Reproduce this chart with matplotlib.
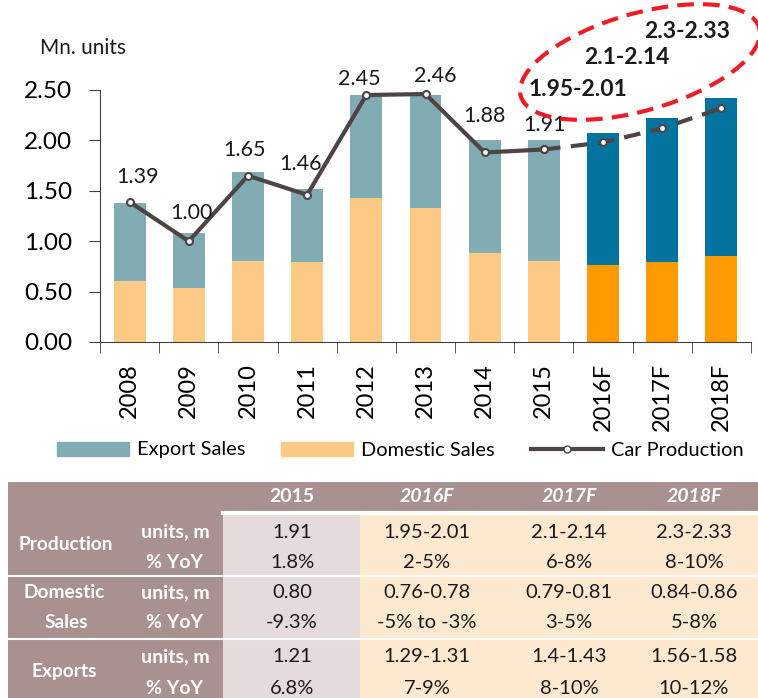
import matplotlib
matplotlib.use("Agg")
import matplotlib.pyplot as plt
from matplotlib.patches import Patch, Rectangle, Ellipse
from matplotlib.lines import Line2D

plt.rcParams['font.family'] = ['Lato', 'DejaVu Sans']

# chart data
years = ['2008', '2009', '2010', '2011', '2012', '2013', '2014', '2015', '2016F', '2017F', '2018F']
domestic = [0.61, 0.54, 0.80, 0.79, 1.43, 1.33, 0.88, 0.80, 0.76, 0.79, 0.85]
export = [0.77, 0.54, 0.89, 0.73, 1.02, 1.12, 1.12, 1.20, 1.31, 1.43, 1.57]
production = [1.39, 1.00, 1.65, 1.46, 2.45, 2.46, 1.88, 1.91, 1.98, 2.12, 2.32]
prod_labels = ['1.39', '1.00', '1.65', '1.46', '2.45', '2.46', '1.88', '1.91']
forecast_labels = ['1.95-2.01', '2.1-2.14', '2.3-2.33']
n_hist = 8

# table data
table_cols = ['2015', '2016F', '2017F', '2018F']
production_units = ['1.91', '1.95-2.01', '2.1-2.14', '2.3-2.33']
production_yoy = ['1.8%', '2-5%', '6-8%', '8-10%']
domestic_units = ['0.80', '0.76-0.78', '0.79-0.81', '0.84-0.86']
domestic_yoy = ['-9.3%', '-5% to -3%', '3-5%', '5-8%']
export_units = ['1.21', '1.29-1.31', '1.4-1.43', '1.56-1.58']
export_yoy = ['6.8%', '7-9%', '8-10%', '10-12%']

# label offsets in pixels (dx, dy up)
label_off = [(8, 25), (3, 28), (-3, 26), (-7, 31), (-7, 16), (10, 18), (0, 36), (1, 24)]

W, H = 758, 698
fig = plt.figure(figsize=(W / 100, H / 100), dpi=100)

# main chart
ax = fig.add_axes([100 / W, 1 - 342 / H, 651 / W, 252 / H])
x = list(range(len(years)))
exp_col = ['#82acb3'] * n_hist + ['#03739f'] * (len(years) - n_hist)
dom_col = ['#fdca85'] * n_hist + ['#fd9a00'] * (len(years) - n_hist)
ax.bar(x, domestic, width=0.54, color=dom_col, zorder=2)
ax.bar(x, export, width=0.54, bottom=domestic, color=exp_col, zorder=2)

line_col = '#4d4446'
ax.plot(x[:n_hist], production[:n_hist], color=line_col, lw=3, zorder=3,
        marker='o', ms=5, mfc='white', mec=line_col, mew=1.5)
ax.plot(x[n_hist - 1:], production[n_hist - 1:], color=line_col, lw=3, zorder=3,
        ls=(0, (4, 2.5)), marker='o', ms=5, mfc='white', mec=line_col, mew=1.5)

for i, lab in enumerate(prod_labels):
    dx, dy = label_off[i]
    ax.annotate(lab, (x[i], production[i]), xytext=(dx * 0.72, dy * 0.72), textcoords='offset points',
                ha='center', va='center', fontsize=15.5, color='#1a1a1a', annotation_clip=False)

ax.set_xlim(-0.5, len(years) - 0.5)
ax.set_ylim(0, 2.5)
ax.set_yticks([0, 0.5, 1.0, 1.5, 2.0, 2.5])
ax.set_yticklabels(['%.2f' % v for v in [0, 0.5, 1.0, 1.5, 2.0, 2.5]], fontsize=17.5)
ax.set_xticks(x)
ax.set_xticklabels(years, rotation=90, fontsize=17)
ax.set_xticks([i - 0.5 for i in range(len(years) + 1)], minor=True)
ax.tick_params(axis='x', which='major', length=0, pad=15)
ax.tick_params(axis='x', which='minor', length=8, color='#404040')
ax.tick_params(axis='y', length=8, color='#404040', pad=12)
for s in ['top', 'right']:
    ax.spines[s].set_visible(False)
for s in ['left', 'bottom']:
    ax.spines[s].set_color('#404040')

fig.text(40 / W, 1 - 48 / H, 'Mn. units', fontsize=15, va='center', ha='left', color='#1a1a1a')

handles = [Patch(color='#82acb3'), Patch(color='#fdca85'),
           Line2D([], [], color=line_col, lw=3, marker='o', ms=5, mfc='white', mec=line_col)]
fig.legend(handles, ['Export Sales', 'Domestic Sales', 'Car Production'], loc='center',
           bbox_to_anchor=(400 / W, 1 - 450 / H), ncol=3, frameon=False, fontsize=14.4,
           handlelength=3.6, handletextpad=0.4, columnspacing=1.8)

# overlay in pixel coordinates for annotation and table
ov = fig.add_axes([0, 0, 1, 1])
ov.set_xlim(0, W)
ov.set_ylim(H, 0)
ov.axis('off')

ov.add_patch(Ellipse((640, 62), 248, 97, angle=-16, fill=False, ec='#ee1c25', lw=3,
                     ls=(0, (4, 2.2))))
for lab, (tx, ty) in zip(forecast_labels, [(578, 90), (627, 57), (687, 32)]):
    ov.text(tx, ty, lab, fontsize=16.5, fontweight='bold', ha='center', va='center', color='#1a1a1a')

brown = '#a8918e'
ov.add_patch(Rectangle((8, 482), W - 8, 30, color=brown, lw=0))
ov.add_patch(Rectangle((8, 482), 215, H - 482, color=brown, lw=0))
ov.add_patch(Rectangle((223, 512), 137, H - 512, color='#e6dbdb', lw=0))
ov.add_patch(Rectangle((360, 512), W - 360, H - 512, color='#fde9d0', lw=0))
ov.plot([223, W], [513, 513], color='white', lw=3)
for yy in [576, 639]:
    ov.plot([8, W], [yy, yy], color='white', lw=1.5)

col_x = [292, 427, 569, 694]
for i, (cx, c) in enumerate(zip(col_x, table_cols)):
    ov.text(cx, 497, c, fontsize=14, fontweight='bold', color='white', ha='center',
            va='center', style='normal' if i == 0 else 'italic')

rows = [production_units, production_yoy, domestic_units, domestic_yoy, export_units, export_yoy]
row_y = [532, 563, 593, 622, 657, 688]
for vals, ry in zip(rows, row_y):
    for cx, v in zip(col_x, vals):
        ov.text(cx, ry, v, fontsize=14.5, color='#1a1a1a', ha='center', va='center')
for i, ry in enumerate(row_y):
    ov.text(175, ry, 'units, m' if i % 2 == 0 else '% YoY', fontsize=14, fontweight='bold',
            color='white', ha='center', va='center')
for lab, lx, ly in [('Production', 66, 545), ('Domestic', 64, 593), ('Sales', 66, 622), ('Exports', 64, 672)]:
    ov.text(lx, ly, lab, fontsize=13.8, fontweight='bold', color='white', ha='center', va='center')

fig.savefig('out.png', dpi=100)
